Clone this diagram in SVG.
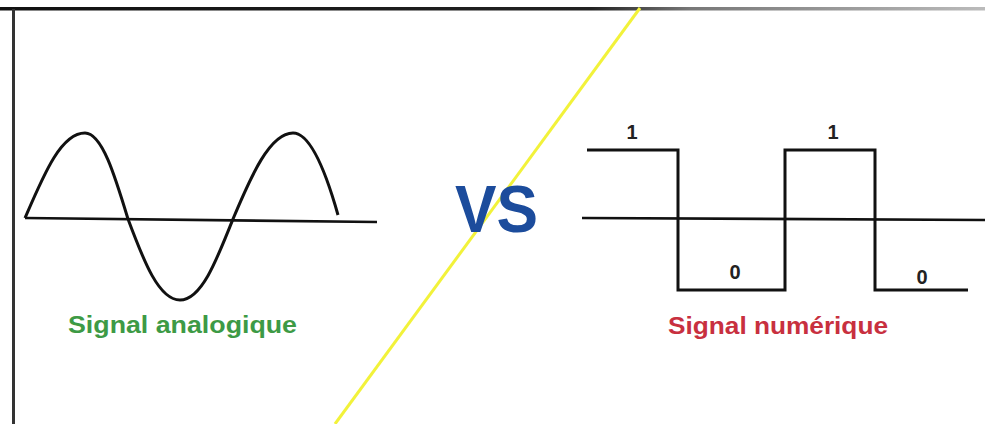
<svg xmlns="http://www.w3.org/2000/svg" width="985" height="424" viewBox="0 0 985 424">
<defs>
<linearGradient id="topfade" x1="0" y1="0" x2="1" y2="0">
<stop offset="0" stop-color="#111"/>
<stop offset="0.6" stop-color="#222"/>
<stop offset="0.7" stop-color="#777"/>
<stop offset="1" stop-color="#bbb"/>
</linearGradient>
</defs>
<style>
.wave{fill:none;stroke:#111;stroke-width:3;stroke-linejoin:miter;stroke-linecap:butt}
.axis{fill:none;stroke:#111;stroke-width:2.6}
.bit{font-family:"Liberation Sans",Arial,sans-serif;font-weight:bold;font-size:20px;fill:#222;text-anchor:middle}
.lbl{font-family:"Liberation Sans",Arial,sans-serif;font-weight:bold;font-size:24px}
</style>
<rect width="985" height="424" fill="#ffffff"/>
<g id="frame">
<rect x="0" y="7" width="985" height="3.5" fill="url(#topfade)"/>
<rect x="12" y="9" width="3" height="415" fill="#333"/>
</g>
<g id="divider">
<line x1="640" y1="8" x2="335" y2="424" stroke="#f2f23a" stroke-width="3"/>
</g>
<g id="analog">
<line class="axis" x1="25" y1="218" x2="377" y2="222"/>
<path class="wave" d="M25,218 C44,174 61,133 85,133 C102,133 115,176 128,219 C144,262 159,300 180,300 C201,300 216,262 233,219 C251,176 270,133 293,133 C311,133 327,176 338,215"/>
<text id="label-analog" class="lbl" x="68" y="333" fill="#3d9a45" textLength="229" lengthAdjust="spacingAndGlyphs">Signal analogique</text>
</g>
<g id="vs">
<text x="455" y="232" font-family="Liberation Sans,Arial,sans-serif" font-weight="bold" font-size="67" fill="#1c4c9c" textLength="83" lengthAdjust="spacingAndGlyphs">VS</text>
</g>
<g id="digital">
<line class="axis" x1="582" y1="218" x2="985" y2="220"/>
<path class="wave" d="M587,150 H678 V290 H785 V150 H875 V290 H968"/>
<text class="bit" x="632" y="139">1</text>
<text class="bit" x="833" y="139">1</text>
<text class="bit" x="735" y="279">0</text>
<text class="bit" x="922" y="284">0</text>
<text id="label-digital" class="lbl" x="668" y="334" fill="#c8303f" textLength="220" lengthAdjust="spacingAndGlyphs">Signal numérique</text>
</g>
</svg>
